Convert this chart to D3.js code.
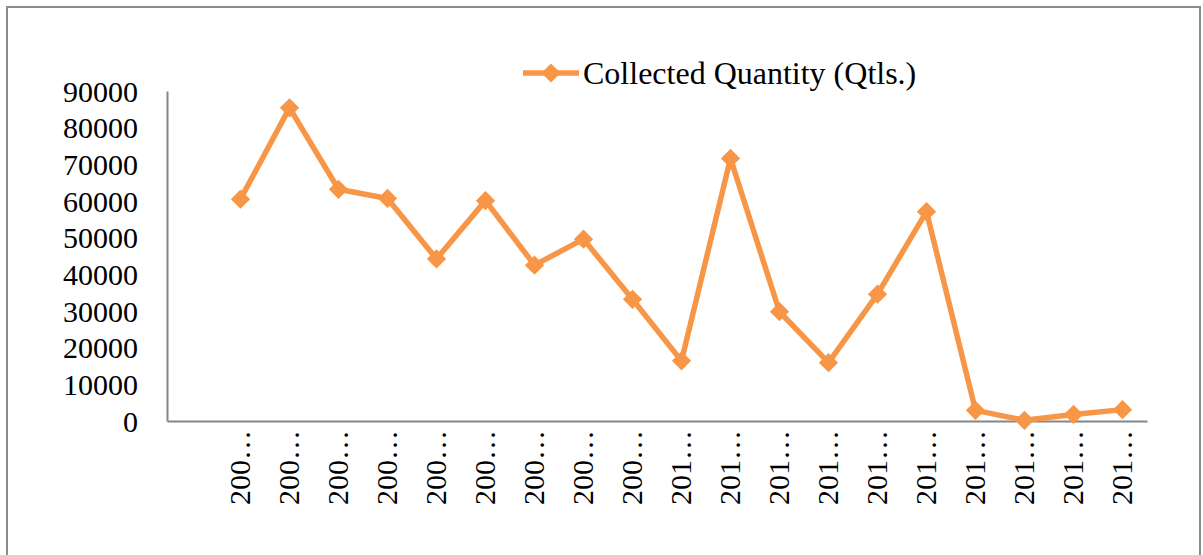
<!DOCTYPE html>
<html>
<head>
<meta charset="utf-8">
<script src="https://cdn.jsdelivr.net/npm/d3@7"></script>
<style>
  body { margin: 0; background: #fff; }
  svg text { font-family: "Liberation Serif", "Times New Roman", serif; fill: #000; }
</style>
</head>
<body>
<svg id="chart"></svg>
<script>
// first slot is empty in the original sheet
const categories = ['', '200…', '200…', '200…', '200…', '200…', '200…', '200…', '200…', '200…',
  '201…', '201…', '201…', '201…', '201…', '201…', '201…', '201…', '201…', '201…'];
const quantity = [null, 60500, 85400, 63200, 60700, 44200, 60100, 42500, 49600, 33200,
  16400, 71600, 29800, 15900, 34600, 57100, 2900, 200, 1800, 3100];
const yTicks = [0, 10000, 20000, 30000, 40000, 50000, 60000, 70000, 80000, 90000];
const seriesName = 'Collected Quantity (Qtls.)';

const width = 1203;
const height = 555;
const margin = { top: 91, right: 56, bottom: 134, left: 167 };
const innerWidth = width - margin.left - margin.right;
const innerHeight = height - margin.top - margin.bottom;
const orange = '#F79646';
const axisGrey = '#868686';

const svg = d3.select('#chart')
  .attr('width', width)
  .attr('height', height);

// outer frame
svg.append('rect')
  .attr('x', 7).attr('y', 7)
  .attr('width', 1193).attr('height', 560)
  .attr('fill', 'none')
  .attr('stroke', '#8c8c8c')
  .attr('stroke-width', 2);

const g = svg.append('g')
  .attr('transform', `translate(${margin.left}, ${margin.top})`);

const x = d3.scaleBand()
  .domain(d3.range(categories.length))
  .range([0, innerWidth]);
const y = d3.scaleLinear()
  .domain([0, 90000])
  .range([innerHeight, 0]);

// Y axis
const yAxis = g.append('g')
  .call(d3.axisLeft(y).tickValues(yTicks).tickSize(0).tickPadding(29).tickFormat(d3.format('d')));
yAxis.select('.domain').attr('stroke', axisGrey).attr('stroke-width', 2);
yAxis.selectAll('text')
  .attr('font-size', 30)
  .attr('dy', '0.34em');

// X axis
const xAxis = g.append('g')
  .attr('transform', `translate(0, ${innerHeight})`)
  .call(d3.axisBottom(x).tickSize(0).tickFormat(i => categories[i]));
xAxis.select('.domain').attr('stroke', axisGrey).attr('stroke-width', 2);
xAxis.selectAll('text')
  .attr('font-size', 30)
  .attr('text-anchor', 'end')
  .attr('transform', 'rotate(-90)')
  .attr('x', -9)
  .attr('y', 0)
  .attr('dy', '0.33em');

// Line
const points = quantity.map((v, i) => ({ i, v })).filter(d => d.v !== null);
const line = d3.line()
  .x(d => x(d.i) + x.bandwidth() / 2)
  .y(d => y(d.v));

g.append('path')
  .datum(points)
  .attr('fill', 'none')
  .attr('stroke', orange)
  .attr('stroke-width', 5.5)
  .attr('stroke-linejoin', 'round')
  .attr('d', line);

const diamond = d3.symbol().type(d3.symbolSquare).size(185);
g.selectAll('.marker')
  .data(points)
  .enter().append('path')
    .attr('class', 'marker')
    .attr('fill', orange)
    .attr('d', diamond)
    .attr('transform', d => `translate(${x(d.i) + x.bandwidth() / 2}, ${y(d.v)}) rotate(45)`);

// Legend
const legend = svg.append('g').attr('transform', 'translate(523, 73)');
legend.append('line')
  .attr('x1', 0).attr('x2', 56)
  .attr('stroke', orange)
  .attr('stroke-width', 5.5);
legend.append('path')
  .attr('fill', orange)
  .attr('d', diamond)
  .attr('transform', 'translate(28, 0) rotate(45)');
legend.append('text')
  .attr('x', 60)
  .attr('y', 11)
  .attr('font-size', 32)
  .text(seriesName);
</script>
</body>
</html>
